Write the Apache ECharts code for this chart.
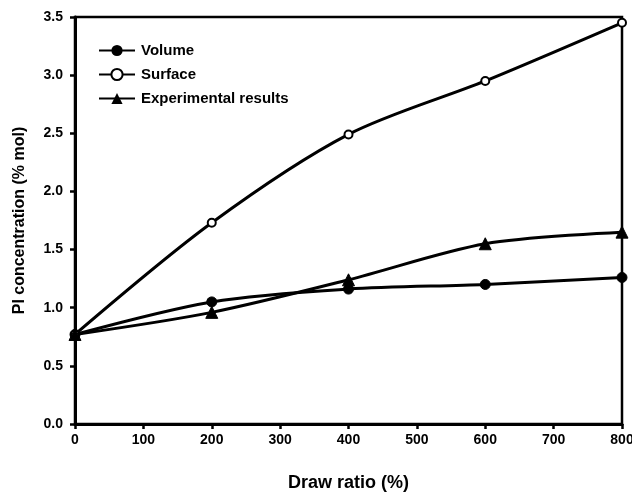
<!DOCTYPE html>
<html>
<head>
<meta charset="utf-8">
<script src="https://cdn.jsdelivr.net/npm/echarts@6/dist/echarts.min.js"></script>
<style>
  html, body { margin: 0; padding: 0; background: #fff; }
  #chart { width: 632px; height: 497px; }
</style>
</head>
<body>
<div id="chart"></div>
<script>
  // draw ratio values (%)
  const drawRatio = [0, 200, 400, 600, 800];
  const volume = [0.77, 1.05, 1.16, 1.20, 1.26];
  const surface = [0.77, 1.73, 2.49, 2.95, 3.45];
  const experimental = [0.77, 0.96, 1.24, 1.55, 1.65];

  const pair = (ys) => drawRatio.map((x, i) => [x, ys[i]]);
  const font = 'Liberation Sans, Arial, sans-serif';

  const myChart = echarts.init(document.getElementById('chart'));
  myChart.setOption({
    animation: false,
    grid: {
      left: 75, right: 10, top: 17, bottom: 73,
      outerBoundsMode: 'none',
      show: true, borderColor: '#000', borderWidth: 2.5
    },
    legend: {
      orient: 'vertical',
      left: 93, top: 38,
      itemWidth: 36, itemHeight: 14, itemGap: 9,
      textStyle: { fontFamily: font, fontWeight: 'bold', fontSize: 15, color: '#000', padding: [0, 0, 0, 1] },
      data: ['Volume', 'Surface', 'Experimental results']
    },
    xAxis: {
      type: 'value', min: 0, max: 800, interval: 100,
      name: 'Draw ratio (%)', nameLocation: 'middle', nameGap: 50,
      nameTextStyle: { fontFamily: font, fontWeight: 'bold', fontSize: 18, color: '#000' },
      axisLine: { lineStyle: { color: '#000', width: 3 } },
      axisTick: { length: 5, lineStyle: { color: '#000', width: 2.5 } },
      axisLabel: { fontFamily: font, fontWeight: 'bold', fontSize: 14, color: '#000', margin: 9 },
      splitLine: { show: false }
    },
    yAxis: {
      type: 'value', min: 0, max: 3.5, interval: 0.5,
      name: 'PI concentration (% mol)', nameLocation: 'middle', nameGap: 47,
      nameTextStyle: { fontFamily: font, fontWeight: 'bold', fontSize: 16, color: '#000' },
      axisLine: { lineStyle: { color: '#000', width: 3 } },
      axisTick: { length: 5, lineStyle: { color: '#000', width: 2.5 } },
      axisLabel: {
        fontFamily: font, fontWeight: 'bold', fontSize: 14, color: '#000', margin: 12,
        formatter: (v) => v.toFixed(1)
      },
      splitLine: { show: false }
    },
    series: [
      {
        name: 'Volume', type: 'line', data: pair(volume), smooth: 0.3,
        symbol: 'circle', symbolSize: 10,
        lineStyle: { color: '#000', width: 3 },
        itemStyle: { color: '#000', borderColor: '#000' }
      },
      {
        name: 'Surface', type: 'line', data: pair(surface), smooth: 0.3,
        symbol: 'emptyCircle', symbolSize: 8,
        lineStyle: { color: '#000', width: 3 },
        itemStyle: { color: '#000', borderColor: '#000', borderWidth: 2.5 }
      },
      {
        name: 'Experimental results', type: 'line', data: pair(experimental), smooth: 0.3,
        symbol: 'triangle', symbolSize: 12,
        lineStyle: { color: '#000', width: 3 },
        itemStyle: { color: '#000', borderColor: '#000' }
      }
    ]
  });
</script>
</body>
</html>
